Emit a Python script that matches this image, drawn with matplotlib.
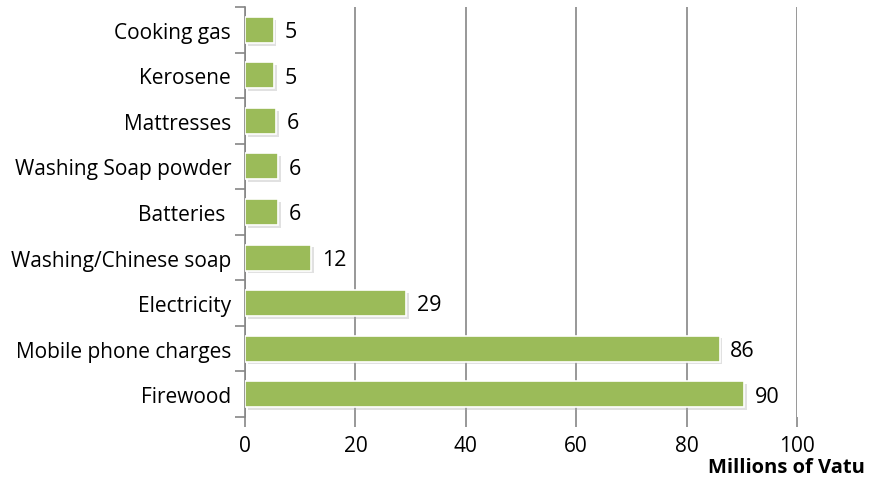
import matplotlib.pyplot as plt
import matplotlib.patheffects as pe

# Data
categories = ['Firewood', 'Mobile phone charges', 'Electricity', 'Washing/Chinese soap',
              'Batteries ', 'Washing Soap powder', 'Mattresses', 'Kerosene', 'Cooking gas']
values = [90.4, 86.0, 29.2, 12.0, 6.0, 6.0, 5.6, 5.3, 5.2]
labels = ['90', '86', '29', '12', '6', '6', '6', '5', '5']
xticks = [0, 20, 40, 60, 80, 100]

plt.rcParams['font.family'] = ['Open Sans', 'DejaVu Sans']

fig = plt.figure(figsize=(8.71, 4.81), dpi=100)
ax = fig.add_axes([245/871, 1-418/481, (797-245)/871, (418-8)/481])

y = range(len(categories))
bars = ax.barh(y, values, height=0.57, color='#9BBB59', edgecolor='white', linewidth=1.2, zorder=3)
for b in bars:
    b.set_path_effects([pe.SimplePatchShadow(offset=(2, -2), shadow_rgbFace='#aaaaaa', alpha=0.35), pe.Normal()])

for yi, v, lab in zip(y, values, labels):
    ax.text(v + 1.9, yi - 0.04, lab, va='center', ha='left', fontsize=15.5)

ax.set_xlim(0, 100)
ax.set_ylim(-0.5, len(categories) - 0.5)
ax.set_xticks(xticks)
ax.set_yticks(list(y))
ax.set_yticklabels(categories)
ax.tick_params(axis='y', length=0, labelsize=15, pad=10)
ax.tick_params(axis='x', length=7, width=1.2, color='#868686', labelsize=15, pad=6)
ax.set_yticks([i - 0.5 for i in range(len(categories) + 1)], minor=True)
ax.tick_params(axis='y', which='minor', length=7, width=1.2, color='#868686')

ax.grid(axis='x', color='#868686', linewidth=1.2, zorder=0)
for s in ['top', 'right', 'bottom']:
    ax.spines[s].set_visible(False)
ax.spines['left'].set_color('#868686')
ax.spines['left'].set_linewidth(1.2)

fig.text(865/871, 1-468/481, 'Millions of Vatu', ha='right', va='center', fontsize=14.5, fontweight='bold')

fig.savefig('out.png', dpi=100)
